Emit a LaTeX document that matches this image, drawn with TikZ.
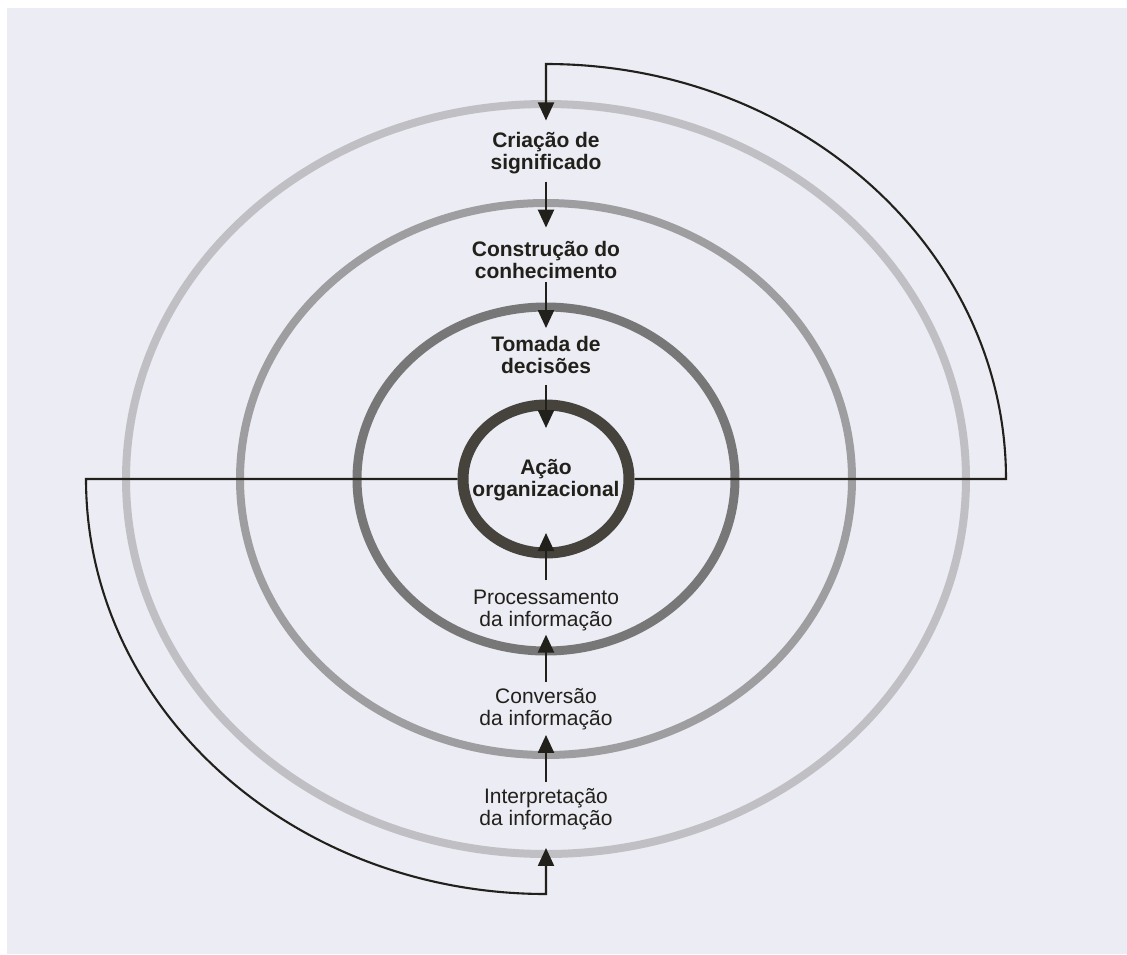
\documentclass[tikz,border=0pt]{standalone}
\usepackage{fontspec}
\setmainfont{Liberation Sans}
\usetikzlibrary{arrows.meta,shapes.geometric}
\definecolor{bgpaper}{RGB}{235,236,244}
\definecolor{ink}{RGB}{34,32,26}
\definecolor{ringA}{RGB}{70,66,60}
\definecolor{ringB}{RGB}{120,119,119}
\definecolor{ringC}{RGB}{158,158,160}
\definecolor{ringD}{RGB}{192,192,196}
\begin{document}
\begin{tikzpicture}[x=1pt,y=-1pt,
  lbl/.style={align=center,inner sep=0pt,text=ink,font=\fontsize{21}{22}\selectfont},
  lblb/.style={align=center,inner sep=0pt,text=ink,font=\bfseries\fontsize{21}{22}\selectfont},
  conn/.style={draw=ink,line width=2.1pt},
  spiral/.style={conn,-{Triangle[length=18pt,width=16pt]}},
  arr/.style={draw=ink,line width=2.4pt,-{Triangle[length=18pt,width=16pt]}},
  ringline/.style={line width=#1}
]
\useasboundingbox (0,0) rectangle (1127,954);
\fill[white] (0,0) rectangle (1127,954);
\fill[bgpaper] (7,8) rectangle (1127,954);

% concentric rings
\draw[ringD,ringline=8pt] (546,479) ellipse[x radius=420pt, y radius=375pt];
\draw[ringC,ringline=8pt] (546,479) ellipse[x radius=306pt, y radius=276pt];
\draw[ringB,ringline=9pt] (546,479) ellipse[x radius=189pt, y radius=172pt];
\node[ellipse, draw=ringA, line width=11pt, minimum width=166pt, minimum height=148pt, inner sep=0pt] (ring1) at (546,479) {};

% labels
\node[lblb] (cri) at (546,153.5) {Criação de\\significado};
\node[lblb] (con) at (546,259.5) {Construção do\\conhecimento};
\node[lblb] (tom) at (546,355) {Tomada de\\decisões};
\node[lblb] (aca) at (546,480) {Ação\\organizacional};
\node[lbl] (pro) at (546,610) {Processamento\\da informação};
\node[lbl] (cov) at (546,709) {Conversão\\da informação};
\node[lbl] (int) at (546,809) {Interpretação\\da informação};

% spiral connectors
\coordinate (rc) at (1006,479);
\coordinate (lc) at (86,479);
\draw[spiral, shorten >=12pt] (ring1.east) -- (rc)
  arc[start angle=0, end angle=90, x radius=460pt, y radius=415pt] -- (cri);
\draw[spiral, shorten >=18pt] (ring1.west) -- (lc)
  arc[start angle=180, end angle=270, x radius=460pt, y radius=415pt] -- (int);

% vertical arrows
\draw[arr, shorten <=7pt, shorten >=13pt] (cri) -- (con);
\draw[arr, shorten <=4pt, shorten >=8pt] (con) -- (tom);
\draw[arr, shorten <=11pt, shorten >=31pt] (tom) -- (aca);
\draw[arr, shorten <=9pt, shorten >=32pt] (pro) -- (aca);
\draw[arr, shorten <=6pt, shorten >=4pt] (cov) -- (pro);
\draw[arr, shorten <=6pt, shorten >=5pt] (int) -- (cov);
\end{tikzpicture}
\end{document}
